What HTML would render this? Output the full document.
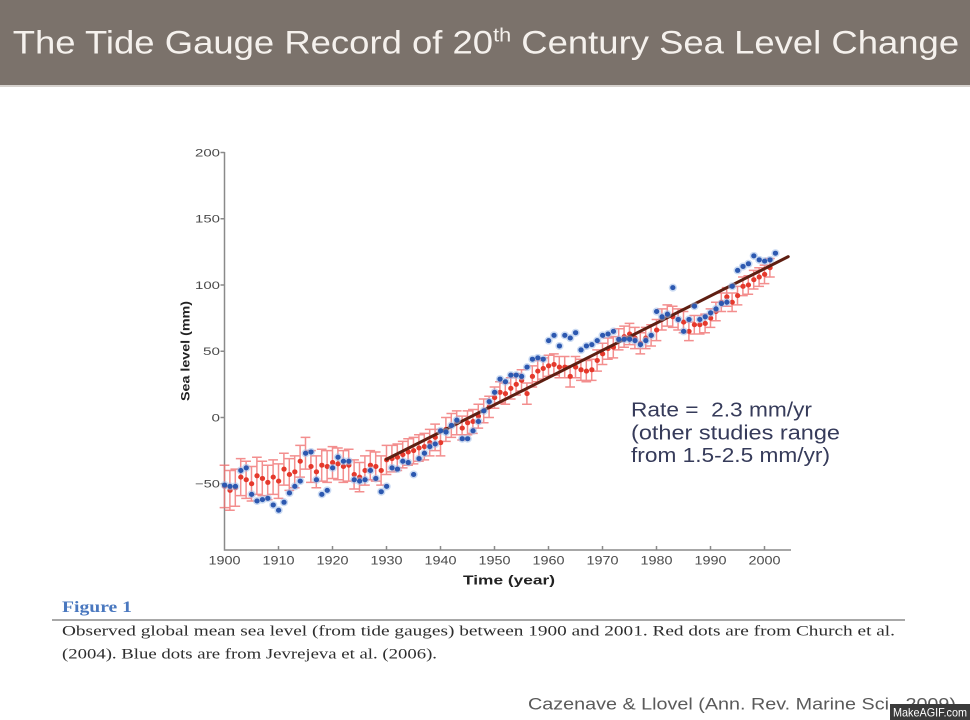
<!DOCTYPE html>
<html><head><meta charset="utf-8"><style>
html,body{margin:0;padding:0;background:#fff;}
svg{display:block;}
</style></head><body>
<svg width="970" height="720" viewBox="0 0 970 720" xmlns="http://www.w3.org/2000/svg">
<rect x="0" y="0" width="970" height="720" fill="#ffffff"/>
<!-- title bar -->
<rect x="0" y="0" width="970" height="85" fill="#7b726b"/>
<rect x="0" y="85" width="970" height="2" fill="#d6d2ce"/>
<g transform="translate(12.7,53.3) scale(1.14,1)">
<text x="0" y="0" font-family="Liberation Sans, Arial, sans-serif" font-size="32" fill="#f5f1ed">The Tide Gauge Record of 20<tspan font-size="19" dy="-12">th</tspan><tspan dy="12"> Century Sea Level Change</tspan></text>
</g>

<!-- axes -->
<g stroke="#8a8a8a" stroke-width="1.5" fill="none">
<path d="M224.5 152V550H791"/>
<path d="M220.5 152.5H224.5M220.5 218.75H224.5M220.5 285H224.5M220.5 351.25H224.5M220.5 417.5H224.5M220.5 483.75H224.5"/>
<path d="M278.5 546V550M332.5 546V550M386.5 546V550M440.5 546V550M494.5 546V550M548.5 546V550M602.5 546V550M656.5 546V550M710.5 546V550M764.5 546V550"/>
</g>
<g font-family="Liberation Sans, Arial, sans-serif" font-size="11" fill="#4a4a4a" lengthAdjust="spacingAndGlyphs">
<text x="195" y="156.5" textLength="25" lengthAdjust="spacingAndGlyphs">200</text>
<text x="195" y="222.7" textLength="25" lengthAdjust="spacingAndGlyphs">150</text>
<text x="195" y="289" textLength="25" lengthAdjust="spacingAndGlyphs">100</text>
<text x="203" y="355.2" textLength="17" lengthAdjust="spacingAndGlyphs">50</text>
<text x="211.5" y="421.5" textLength="8.5" lengthAdjust="spacingAndGlyphs">0</text>
<text x="195" y="487.7" textLength="25" lengthAdjust="spacingAndGlyphs">−50</text>
</g>
<g font-family="Liberation Sans, Arial, sans-serif" font-size="12" fill="#4a4a4a">
<text x="208.5" y="564.5" textLength="32" lengthAdjust="spacingAndGlyphs">1900</text>
<text x="262.5" y="564.5" textLength="32" lengthAdjust="spacingAndGlyphs">1910</text>
<text x="316.5" y="564.5" textLength="32" lengthAdjust="spacingAndGlyphs">1920</text>
<text x="370.5" y="564.5" textLength="32" lengthAdjust="spacingAndGlyphs">1930</text>
<text x="424.5" y="564.5" textLength="32" lengthAdjust="spacingAndGlyphs">1940</text>
<text x="478.5" y="564.5" textLength="32" lengthAdjust="spacingAndGlyphs">1950</text>
<text x="532.5" y="564.5" textLength="32" lengthAdjust="spacingAndGlyphs">1960</text>
<text x="586.5" y="564.5" textLength="32" lengthAdjust="spacingAndGlyphs">1970</text>
<text x="640.5" y="564.5" textLength="32" lengthAdjust="spacingAndGlyphs">1980</text>
<text x="694.5" y="564.5" textLength="32" lengthAdjust="spacingAndGlyphs">1990</text>
<text x="748.5" y="564.5" textLength="32" lengthAdjust="spacingAndGlyphs">2000</text>
</g>
<text x="463" y="584.5" font-family="Liberation Sans, Arial, sans-serif" font-size="13" font-weight="bold" fill="#222" textLength="92" lengthAdjust="spacingAndGlyphs">Time (year)</text>
<text transform="translate(189.5,351) rotate(-90)" x="0" y="0" text-anchor="middle" font-family="Liberation Sans, Arial, sans-serif" font-size="12" font-weight="bold" fill="#222" textLength="100" lengthAdjust="spacingAndGlyphs">Sea level (mm)</text>

<!-- data -->
<g transform="translate(224.5,417.5) scale(5.4,-1.325)">
<path fill="none" stroke="#f07272" stroke-opacity="0.8" stroke-width="1.5" vector-effect="non-scaling-stroke" d="M0 -68V-36M-.9 -68h1.8M-.9 -36h1.8M1 -70V-40M.1 -70h1.8M.1 -40h1.8M2 -67V-39M1.1 -67h1.8M1.1 -39h1.8M3 -59V-31M2.1 -59h1.8M2.1 -31h1.8M4 -61V-33M3.1 -61h1.8M3.1 -33h1.8M5 -63V-37M4.1 -63h1.8M4.1 -37h1.8M6 -58V-30M5.1 -58h1.8M5.1 -30h1.8M7 -59V-33M6.1 -59h1.8M6.1 -33h1.8M8 -62V-36M7.1 -62h1.8M7.1 -36h1.8M9 -58V-32M8.1 -58h1.8M8.1 -32h1.8M10 -61V-35M9.1 -61h1.8M9.1 -35h1.8M11 -51V-27M10.1 -51h1.8M10.1 -27h1.8M12 -55V-31M11.1 -55h1.8M11.1 -31h1.8M13 -53V-29M12.1 -53h1.8M12.1 -29h1.8M14 -45V-21M13.1 -45h1.8M13.1 -21h1.8M15 -39V-15M14.1 -39h1.8M14.1 -15h1.8M16 -49V-25M15.1 -49h1.8M15.1 -25h1.8M17 -53V-29M16.1 -53h1.8M16.1 -29h1.8M18 -48V-24M17.1 -48h1.8M17.1 -24h1.8M19 -49V-25M18.1 -49h1.8M18.1 -25h1.8M20 -46V-22M19.1 -46h1.8M19.1 -22h1.8M21 -47V-23M20.1 -47h1.8M20.1 -23h1.8M22 -49V-25M21.1 -49h1.8M21.1 -25h1.8M23 -48V-24M22.1 -48h1.8M22.1 -24h1.8M24 -54V-32M23.1 -54h1.8M23.1 -32h1.8M25 -56V-34M24.1 -56h1.8M24.1 -34h1.8M26 -51V-29M25.1 -51h1.8M25.1 -29h1.8M27 -47V-25M26.1 -47h1.8M26.1 -25h1.8M28 -48V-26M27.1 -48h1.8M27.1 -26h1.8M29 -51V-29M28.1 -51h1.8M28.1 -29h1.8M30 -43V-21M29.1 -43h1.8M29.1 -21h1.8M31 -41V-21M30.1 -41h1.8M30.1 -21h1.8M32 -40V-20M31.1 -40h1.8M31.1 -20h1.8M33 -38V-18M32.1 -38h1.8M32.1 -18h1.8M34 -36V-16M33.1 -36h1.8M33.1 -16h1.8M35 -35V-15M34.1 -35h1.8M34.1 -15h1.8M36 -33V-13M35.1 -33h1.8M35.1 -13h1.8M37 -32V-12M36.1 -32h1.8M36.1 -12h1.8M38 -29V-9M37.1 -29h1.8M37.1 -9h1.8M39 -25V-5M38.1 -25h1.8M38.1 -5h1.8M40 -29V-9M39.1 -29h1.8M39.1 -9h1.8M41 -18V0M40.1 -18h1.8M40.1 0h1.8M42 -15V3M41.1 -15h1.8M41.1 3h1.8M43 -13V5M42.1 -13h1.8M42.1 5h1.8M44 -17V1M43.1 -17h1.8M43.1 1h1.8M45 -13V5M44.1 -13h1.8M44.1 5h1.8M46 -12V6M45.1 -12h1.8M45.1 6h1.8M47 -8V10M46.1 -8h1.8M46.1 10h1.8M48 -4V14M47.1 -4h1.8M47.1 14h1.8M49 0V16M48.1 0h1.8M48.1 16h1.8M50 7V23M49.1 7h1.8M49.1 23h1.8M51 11V27M50.1 11h1.8M50.1 27h1.8M52 10V26M51.1 10h1.8M51.1 26h1.8M53 14V30M52.1 14h1.8M52.1 30h1.8M54 17V33M53.1 17h1.8M53.1 33h1.8M55 20V36M54.1 20h1.8M54.1 36h1.8M56 10V26M55.1 10h1.8M55.1 26h1.8M57 23V39M56.1 23h1.8M56.1 39h1.8M58 27V43M57.1 27h1.8M57.1 43h1.8M59 29V45M58.1 29h1.8M58.1 45h1.8M60 31V47M59.1 31h1.8M59.1 47h1.8M61 32V48M60.1 32h1.8M60.1 48h1.8M62 30V46M61.1 30h1.8M61.1 46h1.8M63 30V46M62.1 30h1.8M62.1 46h1.8M64 23V39M63.1 23h1.8M63.1 39h1.8M65 30V46M64.1 30h1.8M64.1 46h1.8M66 28V44M65.1 28h1.8M65.1 44h1.8M67 27V43M66.1 27h1.8M66.1 43h1.8M68 28V44M67.1 28h1.8M67.1 44h1.8M69 35V51M68.1 35h1.8M68.1 51h1.8M70 40V56M69.1 40h1.8M69.1 56h1.8M71 44V60M70.1 44h1.8M70.1 60h1.8M72 45V61M71.1 45h1.8M71.1 61h1.8M73 51V67M72.1 51h1.8M72.1 67h1.8M74 53V69M73.1 53h1.8M73.1 69h1.8M75 55V71M74.1 55h1.8M74.1 71h1.8M76 52V68M75.1 52h1.8M75.1 68h1.8M77 48V64M76.1 48h1.8M76.1 64h1.8M78 52V68M77.1 52h1.8M77.1 68h1.8M79 54V70M78.1 54h1.8M78.1 70h1.8M80 58V74M79.1 58h1.8M79.1 74h1.8M81 66V82M80.1 66h1.8M80.1 82h1.8M82 69V85M81.1 69h1.8M81.1 85h1.8M83 68V84M82.1 68h1.8M82.1 84h1.8M84 66V82M83.1 66h1.8M83.1 82h1.8M85 64V80M84.1 64h1.8M84.1 80h1.8M86 58V72M85.1 58h1.8M85.1 72h1.8M87 63V77M86.1 63h1.8M86.1 77h1.8M88 63V77M87.1 63h1.8M87.1 77h1.8M89 64V78M88.1 64h1.8M88.1 78h1.8M90 68V82M89.1 68h1.8M89.1 82h1.8M91 73V87M90.1 73h1.8M90.1 87h1.8M92 80V94M91.1 80h1.8M91.1 94h1.8M93 84V98M92.1 84h1.8M92.1 98h1.8M94 80V94M93.1 80h1.8M93.1 94h1.8M95 85V99M94.1 85h1.8M94.1 99h1.8M96 92V106M95.1 92h1.8M95.1 106h1.8M97 93V107M96.1 93h1.8M96.1 107h1.8M98 97V111M97.1 97h1.8M97.1 111h1.8M99 99V113M98.1 99h1.8M98.1 113h1.8M100 101V115M99.1 101h1.8M99.1 115h1.8M101 106V120M100.1 106h1.8M100.1 120h1.8"/>
<path fill="none" stroke="#e5392c" stroke-width="5" stroke-linecap="round" vector-effect="non-scaling-stroke" d="M0 -52h.05M1 -55h.05M2 -53h.05M3 -45h.05M4 -47h.05M5 -50h.05M6 -44h.05M7 -46h.05M8 -49h.05M9 -45h.05M10 -48h.05M11 -39h.05M12 -43h.05M13 -41h.05M14 -33h.05M15 -27h.05M16 -37h.05M17 -41h.05M18 -36h.05M19 -37h.05M20 -34h.05M21 -35h.05M22 -37h.05M23 -36h.05M24 -43h.05M25 -45h.05M26 -40h.05M27 -36h.05M28 -37h.05M29 -40h.05M30 -32h.05M31 -31h.05M32 -30h.05M33 -28h.05M34 -26h.05M35 -25h.05M36 -23h.05M37 -22h.05M38 -19h.05M39 -15h.05M40 -19h.05M41 -9h.05M42 -6h.05M43 -4h.05M44 -8h.05M45 -4h.05M46 -3h.05M47 1h.05M48 5h.05M49 8h.05M50 15h.05M51 19h.05M52 18h.05M53 22h.05M54 25h.05M55 28h.05M56 18h.05M57 31h.05M58 35h.05M59 37h.05M60 39h.05M61 40h.05M62 38h.05M63 38h.05M64 31h.05M65 38h.05M66 36h.05M67 35h.05M68 36h.05M69 43h.05M70 48h.05M71 52h.05M72 53h.05M73 59h.05M74 61h.05M75 63h.05M76 60h.05M77 56h.05M78 60h.05M79 62h.05M80 66h.05M81 74h.05M82 77h.05M83 76h.05M84 74h.05M85 72h.05M86 65h.05M87 70h.05M88 70h.05M89 71h.05M90 75h.05M91 80h.05M92 87h.05M93 91h.05M94 87h.05M95 92h.05M96 99h.05M97 100h.05M98 104h.05M99 106h.05M100 108h.05M101 113h.05"/>
<path fill="none" stroke="#5e1f12" stroke-width="3" stroke-linecap="round" vector-effect="non-scaling-stroke" d="M30 -31.5L104.4 121.4"/>
<path fill="none" stroke="#9fbbe8" stroke-opacity="0.55" stroke-width="8" stroke-linecap="round" vector-effect="non-scaling-stroke" d="M0 -51h.05M1 -52h.05M2 -52h.05M3 -40h.05M4 -38h.05M5 -58h.05M6 -63h.05M7 -62h.05M8 -61h.05M9 -66h.05M10 -70h.05M11 -64h.05M12 -57h.05M13 -52h.05M14 -48h.05M15 -27h.05M16 -26h.05M17 -47h.05M18 -58h.05M19 -55h.05M20 -38h.05M21 -30h.05M22 -33h.05M23 -33h.05M24 -47h.05M25 -48h.05M26 -47h.05M27 -40h.05M28 -46h.05M29 -56h.05M30 -52h.05M31 -38h.05M32 -39h.05M33 -33h.05M34 -34h.05M35 -43h.05M36 -31h.05M37 -27h.05M38 -22h.05M39 -20h.05M40 -10h.05M41 -11h.05M42 -6h.05M43 -2h.05M44 -16h.05M45 -16h.05M46 -10h.05M47 -3h.05M48 5h.05M49 12h.05M50 19h.05M51 29h.05M52 27h.05M53 32h.05M54 32h.05M55 31h.05M56 38h.05M57 44h.05M58 45h.05M59 44h.05M60 58h.05M61 62h.05M62 54h.05M63 62h.05M64 60h.05M65 64h.05M66 51h.05M67 54h.05M68 55h.05M69 58h.05M70 62h.05M71 63h.05M72 65h.05M73 59h.05M74 59h.05M75 59h.05M76 58h.05M77 55h.05M78 58h.05M79 62h.05M80 80h.05M81 76h.05M82 78h.05M83 98h.05M84 74h.05M85 65h.05M86 74h.05M87 84h.05M88 74h.05M89 76h.05M90 79h.05M91 82h.05M92 86h.05M93 87h.05M94 99h.05M95 111h.05M96 114h.05M97 116h.05M98 122h.05M99 119h.05M100 118h.05M101 119h.05M102 124h.05"/>
<path fill="none" stroke="#2c58b0" stroke-width="5" stroke-linecap="round" vector-effect="non-scaling-stroke" d="M0 -51h.05M1 -52h.05M2 -52h.05M3 -40h.05M4 -38h.05M5 -58h.05M6 -63h.05M7 -62h.05M8 -61h.05M9 -66h.05M10 -70h.05M11 -64h.05M12 -57h.05M13 -52h.05M14 -48h.05M15 -27h.05M16 -26h.05M17 -47h.05M18 -58h.05M19 -55h.05M20 -38h.05M21 -30h.05M22 -33h.05M23 -33h.05M24 -47h.05M25 -48h.05M26 -47h.05M27 -40h.05M28 -46h.05M29 -56h.05M30 -52h.05M31 -38h.05M32 -39h.05M33 -33h.05M34 -34h.05M35 -43h.05M36 -31h.05M37 -27h.05M38 -22h.05M39 -20h.05M40 -10h.05M41 -11h.05M42 -6h.05M43 -2h.05M44 -16h.05M45 -16h.05M46 -10h.05M47 -3h.05M48 5h.05M49 12h.05M50 19h.05M51 29h.05M52 27h.05M53 32h.05M54 32h.05M55 31h.05M56 38h.05M57 44h.05M58 45h.05M59 44h.05M60 58h.05M61 62h.05M62 54h.05M63 62h.05M64 60h.05M65 64h.05M66 51h.05M67 54h.05M68 55h.05M69 58h.05M70 62h.05M71 63h.05M72 65h.05M73 59h.05M74 59h.05M75 59h.05M76 58h.05M77 55h.05M78 58h.05M79 62h.05M80 80h.05M81 76h.05M82 78h.05M83 98h.05M84 74h.05M85 65h.05M86 74h.05M87 84h.05M88 74h.05M89 76h.05M90 79h.05M91 82h.05M92 86h.05M93 87h.05M94 99h.05M95 111h.05M96 114h.05M97 116h.05M98 122h.05M99 119h.05M100 118h.05M101 119h.05M102 124h.05"/>
</g>

<!-- annotation -->
<g font-family="Liberation Sans, Arial, sans-serif" font-size="20" fill="#363b5a">
<text x="631" y="416.5" textLength="181" lengthAdjust="spacingAndGlyphs">Rate =&#160; 2.3 mm/yr</text>
<text x="631" y="439.5" textLength="209" lengthAdjust="spacingAndGlyphs">(other studies range</text>
<text x="631" y="462" textLength="199" lengthAdjust="spacingAndGlyphs">from 1.5-2.5 mm/yr)</text>
</g>

<!-- caption -->
<text x="62" y="612" font-family="Liberation Serif, Times New Roman, serif" font-size="16" font-weight="bold" fill="#4a78bf" textLength="70" lengthAdjust="spacingAndGlyphs">Figure 1</text>
<rect x="52" y="619" width="853" height="2" fill="#a8a8a8"/>
<g font-family="Liberation Serif, Times New Roman, serif" font-size="15" fill="#2e2e2e">
<text x="62" y="635.5" textLength="833" lengthAdjust="spacingAndGlyphs">Observed global mean sea level (from tide gauges) between 1900 and 2001. Red dots are from Church et al.</text>
<text x="62" y="658.5" textLength="375" lengthAdjust="spacingAndGlyphs">(2004). Blue dots are from Jevrejeva et al. (2006).</text>
</g>

<text x="528" y="709.5" font-family="Liberation Sans, Arial, sans-serif" font-size="17" fill="#5a5a5a" textLength="428" lengthAdjust="spacingAndGlyphs">Cazenave &amp; Llovel (Ann. Rev. Marine Sci., 2009)</text>

<rect x="890" y="704" width="80" height="16" fill="#3b3b3b"/>
<text x="893" y="716.5" font-family="Liberation Sans, Arial, sans-serif" font-size="12" fill="#ffffff" textLength="74" lengthAdjust="spacingAndGlyphs">MakeAGIF.com</text>
</svg>
</body></html>
